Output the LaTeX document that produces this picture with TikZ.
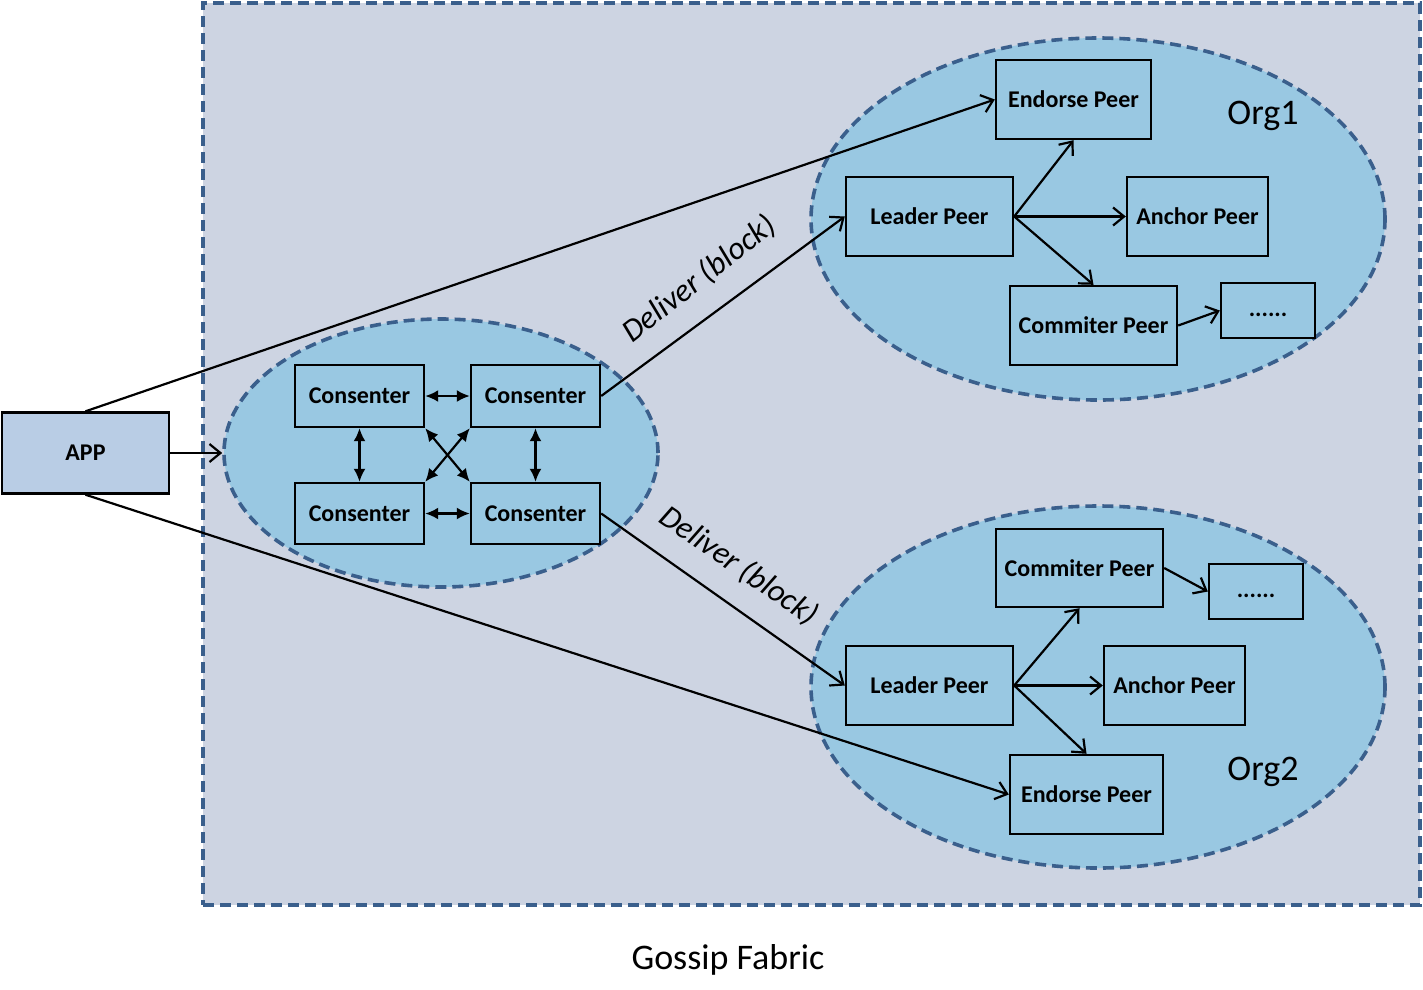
\documentclass[tikz,border=0pt]{standalone}
\usepackage{fontspec}
\setmainfont{Carlito}
\usetikzlibrary{arrows.meta,shapes.geometric}
\definecolor{outerfill}{HTML}{CDD4E2}
\definecolor{ellfill}{HTML}{99C8E2}
\definecolor{appfill}{HTML}{B9CDE5}
\definecolor{dashcol}{HTML}{3A5F8C}
\tikzset{
  box/.style={draw=black, line width=2.4pt, fill=ellfill, inner sep=0pt, rectangle,
    font=\bfseries\fontsize{24}{28}\selectfont},
  conn/.style={line width=2.2pt, -{Straight Barb[length=11pt,width=18pt,line width=2.2pt]}},
  dbl/.style={line width=2.2pt, {Latex[length=13pt,width=12pt]}-{Latex[length=13pt,width=12pt]}},
  dashb/.style={draw=dashcol, line width=3.6pt, dash pattern=on 11pt off 6pt},
  org/.style={ellipse, dashb, fill=ellfill, inner sep=0pt},
  biglabel/.style={font=\fontsize{36}{40}\selectfont},
  deliver/.style={font=\itshape\fontsize{32}{36}\selectfont},
}
\begin{document}
\begin{tikzpicture}[x=1pt,y=-1pt]
\useasboundingbox (0,0) rectangle (1423,989);
% outer fabric
\node[rectangle, dashb, fill=outerfill, minimum width=1217pt, minimum height=902pt, inner sep=0pt] (fabric) at (811.5,454) {};
\node[biglabel] (gossip) at (728,960) {Gossip Fabric};
% ellipses
\node[org, minimum width=434pt, minimum height=268pt] (cons) at (441,453) {};
\node[org, minimum width=574pt, minimum height=362pt] (org1) at (1098,219) {};
\node[org, minimum width=574pt, minimum height=362pt] (org2) at (1098,687) {};
% APP
\node[box, fill=appfill, minimum width=167pt, minimum height=81pt] (app) at (85.5,453) {APP};
% consenters
\node[box, minimum width=129pt, minimum height=62pt] (ctl) at (359.5,396) {Consenter};
\node[box, minimum width=129pt, minimum height=62pt] (ctr) at (535.5,396) {Consenter};
\node[box, minimum width=129pt, minimum height=61pt] (cbl) at (359.5,513.5) {Consenter};
\node[box, minimum width=129pt, minimum height=61pt] (cbr) at (535.5,513.5) {Consenter};
% Org1
\node[box, minimum width=155pt, minimum height=79pt] (end1) at (1073.5,99.5) {Endorse Peer};
\node[box, minimum width=167pt, minimum height=79pt] (lead1) at (929.5,216.5) {Leader Peer};
\node[box, minimum width=141pt, minimum height=79pt] (anc1) at (1197.5,216.5) {Anchor Peer};
\node[box, minimum width=167pt, minimum height=79pt] (com1) at (1093.5,325.5) {Commiter Peer};
\node[box, minimum width=94pt, minimum height=55pt] (dots1) at (1268,310.5) {\smash{\raisebox{-6pt}{......}}};
\node[biglabel] (o1) at (1263,116) {Org1};
% Org2
\node[box, minimum width=167pt, minimum height=78pt] (com2) at (1079.5,568) {Commiter Peer};
\node[box, minimum width=94pt, minimum height=55pt] (dots2) at (1256,591.5) {\smash{\raisebox{-6pt}{......}}};
\node[box, minimum width=167pt, minimum height=79pt] (lead2) at (929.5,685.5) {Leader Peer};
\node[box, minimum width=141pt, minimum height=79pt] (anc2) at (1174.5,685.5) {Anchor Peer};
\node[box, minimum width=153pt, minimum height=79pt] (end2) at (1086.5,794.5) {Endorse Peer};
\node[biglabel] (o2) at (1263,772) {Org2};
% deliver labels
\node[deliver, rotate=38] (dl1) at (699,279) {Deliver (block)};
\node[deliver, rotate=-34.5] (dl2) at (739,566) {Deliver (block)};
% connectors
\draw[conn] (app.north) -- (end1.west);
\draw[conn] (app.south) -- (end2.west);
\draw[conn] (app.east) -- (cons.west);
\draw[conn] (ctr.east) -- (lead1.west);
\draw[conn] (cbr.east) -- (lead2.west);
\draw[conn] (lead1.east) -- (end1.south);
\draw[conn] (lead1.east) -- (anc1.west);
\draw[conn] (lead1.east) -- (com1.north);
\draw[conn] (com1.east) -- (dots1.west);
\draw[conn] (lead2.east) -- (com2.south);
\draw[conn] (lead2.east) -- (anc2.west);
\draw[conn] (lead2.east) -- (end2.north);
\draw[conn] (com2.east) -- (dots2.west);
% consenter mesh
\draw[dbl] (ctl.east) -- (ctr.west);
\draw[dbl] (cbl.east) -- (cbr.west);
\draw[dbl] (ctl.south) -- (cbl.north);
\draw[dbl] (ctr.south) -- (cbr.north);
\draw[dbl] (ctl.south east) -- (cbr.north west);
\draw[dbl] (ctr.south west) -- (cbl.north east);
\end{tikzpicture}
\end{document}
